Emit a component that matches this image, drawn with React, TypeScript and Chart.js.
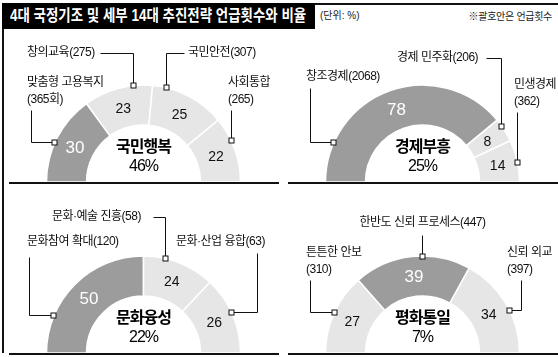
import React, { useEffect, useLayoutEffect, useRef } from 'react';
import { Chart, registerables } from 'chart.js';

Chart.register(...registerables);

// ---------- data ----------
const titleText = '4대 국정기조 및 세부 14대 추진전략 언급횟수와 비율';
const unitText = '(단위: %)';
const noteText = '※괄호안은 언급횟수';

const groupNames = ['국민행복', '경제부흥', '문화융성', '평화통일'];
const groupShares = [46, 25, 22, 7];

const happyValues = [30, 23, 25, 22];
const happyLabels = [['맞춤형 고용복지', '(365회)'], ['창의교육(275)'], ['국민안전(307)'], ['사회통합', '(265)']];
const happyHighlight = [0];

const economyValues = [78, 8, 14];
const economyLabels = [['창조경제(2068)'], ['경제 민주화(206)'], ['민생경제', '(362)']];
const economyHighlight = [0];

const cultureValues = [50, 24, 26];
const cultureLabels = [['문화참여 확대(120)'], ['문화·예술 진흥(58)'], ['문화·산업 융합(63)']];
const cultureHighlight = [0];

const peaceValues = [27, 39, 34];
const peaceLabels = [['튼튼한 안보', '(310)'], ['한반도 신뢰 프로세스(447)'], ['신뢰 외교', '(397)']];
const peaceHighlight = [1];

// ---------- styles / layout ----------
const DARK = '#9c9c9c';
const LIGHT = '#e6e6e6';
const KFONT = '"Liberation Sans", "Noto Sans CJK KR", sans-serif';
const OUTER_R = 97;
const INNER_R = 57;

type Leg = ['h' | 'v', number];
type LabelLayout = { t: number; legs: Leg[]; x: number; y: number; align?: CanvasTextAlign };

const happyLayout: LabelLayout[] = [
  { t: 0.44, legs: [['h', -112], ['v', -72]], x: -116.5, y: -99 },
  { t: 0.72, legs: [['v', -129], ['h', -43]], x: -116.5, y: -129 },
  { t: 0.18, legs: [['v', -129], ['h', 41]], x: 44.5, y: -129 },
  { t: 0.36, legs: [['v', -72]], x: 84.5, y: -99 },
];
const economyLayout: LabelLayout[] = [
  { t: 0.169, legs: [['h', -112.5], ['v', -94]], x: -116.5, y: -105 },
  { t: 0.32, legs: [['v', -124], ['h', 63.5]], x: -25.5, y: -124 },
  { t: 0.55, legs: [['v', -70]], x: 91.5, y: -97 },
];
const cultureLayout: LabelLayout[] = [
  { t: 0.25, legs: [['h', -114.5], ['v', -96]], x: -116.5, y: -111 },
  { t: 0.31, legs: [['v', -136], ['h', 9.5]], x: -91.5, y: -136 },
  { t: 0.47, legs: [['h', 113.5], ['v', -100]], x: 32.5, y: -111 },
];
const peaceLayout: LabelLayout[] = [
  { t: 0.51, legs: [['h', -112.5], ['v', -73]], x: -116.5, y: -100 },
  { t: 0.59, legs: [['v', -118]], x: 0, y: -130, align: 'center' },
  { t: 0.58, legs: [['h', 98.5], ['v', -73]], x: 84.5, y: -100 },
];

const snap = (v: number) => Math.round(v - 0.5) + 0.5;

function makePlugin(cfg: any) {
  return {
    id: 'donutAnnotations',
    afterDatasetsDraw(chart: any) {
      const ctx: CanvasRenderingContext2D = chart.ctx;
      const arcs = chart.getDatasetMeta(0).data as any[];
      if (!arcs.length) return;
      const cx = arcs[0].x;
      const cy = arcs[0].y;
      ctx.save();
      // values inside segments
      arcs.forEach((arc, i) => {
        const p = arc.getCenterPoint();
        const hi = cfg.highlight.includes(i);
        ctx.font = `${hi ? 17 : 14}px ${KFONT}`;
        (ctx as any).letterSpacing = '0px';
        ctx.fillStyle = hi ? '#ffffff' : '#111111';
        ctx.textAlign = 'center';
        ctx.textBaseline = 'middle';
        ctx.fillText(String(cfg.values[i]), p.x, p.y + 1);
      });
      // center text
      ctx.fillStyle = '#000000';
      ctx.font = `bold 16px ${KFONT}`;
      (ctx as any).letterSpacing = '-1px';
      ctx.fillText(cfg.name, cx, cy - 34);
      ctx.font = `16px ${KFONT}`;
      (ctx as any).letterSpacing = '-1px';
      ctx.fillText(`${cfg.share}%`, cx, cy - 15);
      // leaders + labels
      ctx.strokeStyle = '#111111';
      ctx.lineWidth = 1;
      cfg.layout.forEach((L: LabelLayout, i: number) => {
        const arc = arcs[i];
        const a = arc.startAngle + L.t * (arc.endAngle - arc.startAngle);
        const mx = cx + arc.outerRadius * Math.cos(a);
        const my = cy + arc.outerRadius * Math.sin(a);
        let px = snap(mx);
        let py = snap(my);
        ctx.beginPath();
        ctx.moveTo(px, py);
        L.legs.forEach(([dir, v]) => {
          if (dir === 'v') py = snap(cy + v);
          else px = snap(cx + v);
          ctx.lineTo(px, py);
        });
        ctx.stroke();
        // marker
        ctx.fillStyle = '#ffffff';
        ctx.fillRect(snap(mx) - 2.5, snap(my) - 2.5, 5, 5);
        ctx.strokeRect(snap(mx) - 2.5, snap(my) - 2.5, 5, 5);
        // text
        ctx.fillStyle = '#111111';
        ctx.font = `12px ${KFONT}`;
        (ctx as any).letterSpacing = '-0.5px';
        ctx.textAlign = L.align || 'left';
        ctx.textBaseline = 'middle';
        cfg.labels[i].forEach((line: string, k: number) => {
          ctx.fillText(line, cx + L.x, cy + L.y + k * 17);
        });
      });
      ctx.restore();
    },
  };
}

function Donut(props: any) {
  const { left, top, width, height, values, highlight, labels, layout, name, share } = props;
  const ref = useRef<HTMLCanvasElement>(null);
  useEffect(() => {
    const chart = new Chart(ref.current!, {
      type: 'doughnut',
      data: {
        labels: labels.map((l: string[]) => l.join(' ')),
        datasets: [
          {
            data: values,
            backgroundColor: values.map((_: number, i: number) => (highlight.includes(i) ? DARK : LIGHT)),
            borderColor: '#ffffff',
            borderWidth: 1.5,
            hoverOffset: 0,
          },
        ],
      },
      options: {
        responsive: false,
        animation: false,
        events: [],
        rotation: -90,
        circumference: 180,
        radius: OUTER_R,
        cutout: `${(INNER_R / OUTER_R) * 100}%`,
        layout: { padding: { left: 8, right: 0, top: height - OUTER_R, bottom: 0 } },
        plugins: { legend: { display: false }, tooltip: { enabled: false } },
      } as any,
      plugins: [makePlugin({ values, highlight, labels, layout, name, share })],
    });
    return () => chart.destroy();
  }, []);
  return (
    <canvas
      ref={ref}
      width={width}
      height={height}
      style={{ position: 'absolute', left, top, width, height }}
    />
  );
}

export default function App() {
  const titleRef = useRef<HTMLSpanElement>(null);
  useLayoutEffect(() => {
    const el = titleRef.current;
    if (el) {
      const w = el.scrollWidth;
      el.style.transform = `scaleX(${296 / w})`;
    }
  }, []);
  const line = (l: number, t: number, w: number, h: number) => (
    <div style={{ position: 'absolute', left: l, top: t, width: w, height: h, background: '#111' }} />
  );
  return (
    <div
      style={{
        position: 'absolute',
        left: 0,
        top: 0,
        width: 558,
        height: 357,
        background: '#fff',
        overflow: 'hidden',
        fontFamily: KFONT,
      }}
    >
      {line(2, 3, 556, 1.5)}
      {line(2, 3, 1.5, 350)}
      <div style={{ position: 'absolute', left: 2, top: 3, width: 313, height: 26, background: '#000' }}>
        <span
          ref={titleRef}
          style={{
            position: 'absolute',
            left: 8,
            top: 0,
            lineHeight: '26px',
            fontSize: 16,
            fontWeight: 'bold',
            color: '#fff',
            whiteSpace: 'nowrap',
            transformOrigin: 'left center',
            display: 'inline-block',
          }}
        >
          {titleText}
        </span>
      </div>
      <div style={{ position: 'absolute', left: 320, top: 9, fontSize: 10, color: '#222', lineHeight: '14px', whiteSpace: 'nowrap' }}>
        {unitText}
      </div>
      <div style={{ position: 'absolute', right: 6, top: 10, fontSize: 10, color: '#222', lineHeight: '14px', whiteSpace: 'nowrap', letterSpacing: '-0.3px' }}>
        {noteText}
      </div>
      <Donut left={0} top={30} width={279} height={152} values={happyValues} highlight={happyHighlight} labels={happyLabels} layout={happyLayout} name={groupNames[0]} share={groupShares[0]} />
      <Donut left={279} top={30} width={279} height={152} values={economyValues} highlight={economyHighlight} labels={economyLabels} layout={economyLayout} name={groupNames[1]} share={groupShares[1]} />
      <Donut left={0} top={185} width={279} height={168} values={cultureValues} highlight={cultureHighlight} labels={cultureLabels} layout={cultureLayout} name={groupNames[2]} share={groupShares[2]} />
      <Donut left={279} top={185} width={279} height={168} values={peaceValues} highlight={peaceHighlight} labels={peaceLabels} layout={peaceLayout} name={groupNames[3]} share={groupShares[3]} />
      {line(9, 182, 270, 1.5)}
      {line(288, 182, 270, 1.5)}
      {line(9, 353, 270, 1.5)}
      {line(288, 353, 270, 1.5)}
    </div>
  );
}
